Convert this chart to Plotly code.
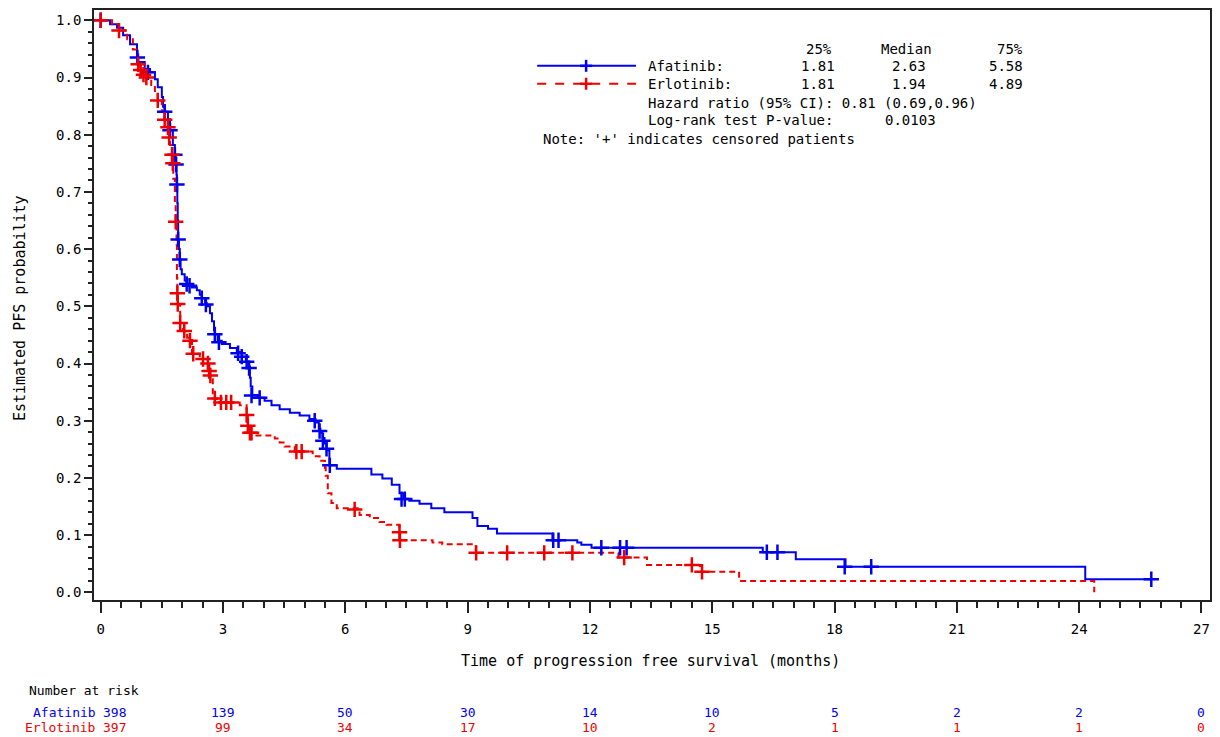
import plotly.graph_objects as go

# ---------------- data ----------------
afa_t = [0, 0.23, 0.40, 0.55, 0.72, 0.89, 0.92, 1.08, 1.21, 1.33, 1.40, 1.50, 1.53, 1.57, 1.65, 1.70,
         1.77, 1.82, 1.84, 1.86, 1.87, 1.88, 1.89, 1.90, 1.92, 1.94, 1.96, 1.99, 2.06, 2.11, 2.24, 2.36,
         2.43, 2.48, 2.56, 2.60, 2.68, 2.73, 2.78, 2.80, 2.87, 2.97, 3.17, 3.34, 3.46, 3.56, 3.63, 3.66,
         3.68, 3.72, 3.85, 4.02, 4.19, 4.39, 4.64, 4.88, 5.12, 5.27, 5.35, 5.39, 5.44, 5.49, 5.54, 5.61,
         5.79, 6.64, 6.91, 7.14, 7.33, 7.43, 7.57, 7.82, 8.11, 8.43, 9.12, 9.24, 9.50, 9.72, 11.08, 11.69,
         11.79, 12.04, 16.24, 17.05, 18.27, 24.15, 25.77]
afa_s = [1.0, 0.993, 0.987, 0.974, 0.958, 0.940, 0.927, 0.915, 0.909, 0.897, 0.883, 0.866, 0.849, 0.840,
         0.827, 0.808, 0.782, 0.765, 0.748, 0.730, 0.713, 0.680, 0.650, 0.617, 0.600, 0.582, 0.565, 0.556,
         0.545, 0.539, 0.533, 0.528, 0.520, 0.514, 0.506, 0.500, 0.488, 0.474, 0.458, 0.451, 0.440, 0.434,
         0.427, 0.420, 0.412, 0.403, 0.395, 0.375, 0.360, 0.345, 0.340, 0.335, 0.327, 0.320, 0.314, 0.309,
         0.303, 0.297, 0.286, 0.279, 0.270, 0.260, 0.248, 0.222, 0.216, 0.206, 0.199, 0.188, 0.173, 0.163,
         0.160, 0.155, 0.147, 0.140, 0.130, 0.116, 0.111, 0.103, 0.091, 0.087, 0.083, 0.078, 0.070, 0.058,
         0.0446, 0.023, 0.023]
afa_cens_t = [0.00, 0.90, 1.16, 1.57, 1.70, 1.82, 1.85, 1.87, 1.90, 1.94, 2.11, 2.18, 2.48, 2.58, 2.80,
              2.90, 3.37, 3.46, 3.58, 3.64, 3.70, 3.90, 5.25, 5.37, 5.45, 5.54, 5.62, 7.38, 7.46, 11.10,
              11.23, 12.28, 12.74, 12.90, 16.34, 16.60, 18.25, 18.90, 25.77]
afa_cens_s = [1.000, 0.935, 0.909, 0.840, 0.808, 0.765, 0.748, 0.713, 0.617, 0.582, 0.539, 0.536, 0.514,
              0.503, 0.451, 0.437, 0.418, 0.412, 0.403, 0.392, 0.344, 0.340, 0.300, 0.282, 0.265, 0.251,
              0.222, 0.163, 0.163, 0.091, 0.091, 0.078, 0.078, 0.078, 0.070, 0.070, 0.0446, 0.0446, 0.023]

erl_t = [0, 0.28, 0.45, 0.65, 0.79, 0.91, 0.96, 1.03, 1.14, 1.24, 1.33, 1.40, 1.50, 1.57, 1.65, 1.68,
         1.70, 1.75, 1.77, 1.78, 1.82, 1.84, 1.86, 1.87, 1.88, 1.89, 1.95, 2.02, 2.12, 2.24, 2.43, 2.60,
         2.65, 2.68, 2.75, 2.85, 3.41, 3.58, 3.61, 3.66, 3.78, 4.27, 4.39, 4.51, 4.76, 5.20, 5.37, 5.50,
         5.52, 5.57, 5.66, 5.79, 6.35, 6.60, 6.84, 7.01, 7.33, 7.34, 8.14, 8.38, 9.20, 12.70, 13.40,
         14.70, 15.66, 24.37]
erl_s = [1.0, 0.993, 0.982, 0.967, 0.949, 0.923, 0.913, 0.905, 0.897, 0.887, 0.871, 0.860, 0.840, 0.826,
         0.813, 0.795, 0.782, 0.765, 0.750, 0.723, 0.678, 0.648, 0.608, 0.549, 0.523, 0.504, 0.471, 0.457,
         0.445, 0.417, 0.408, 0.400, 0.387, 0.379, 0.339, 0.332, 0.327, 0.310, 0.291, 0.279, 0.274, 0.269,
         0.262, 0.255, 0.246, 0.238, 0.230, 0.218, 0.204, 0.173, 0.156, 0.147, 0.135, 0.130, 0.123, 0.118,
         0.105, 0.091, 0.087, 0.084, 0.069, 0.061, 0.048, 0.036, 0.020, 0.0]
erl_cens_t = [0.00, 0.45, 0.92, 0.98, 1.05, 1.12, 1.40, 1.57, 1.65, 1.68, 1.75, 1.77, 1.84, 1.88, 1.89,
              1.95, 2.05, 2.19, 2.27, 2.51, 2.63, 2.66, 2.69, 2.80, 2.95, 3.08, 3.20, 3.58, 3.61, 3.66,
              3.70, 4.80, 4.93, 6.23, 7.33, 7.34, 9.21, 9.97, 10.88, 11.57, 12.84, 14.50, 14.75]
erl_cens_s = [1.000, 0.982, 0.923, 0.913, 0.905, 0.900, 0.860, 0.826, 0.813, 0.795, 0.765, 0.750, 0.648,
              0.523, 0.504, 0.471, 0.457, 0.440, 0.417, 0.408, 0.400, 0.387, 0.379, 0.339, 0.332, 0.332,
              0.332, 0.310, 0.291, 0.279, 0.279, 0.246, 0.246, 0.145, 0.105, 0.091, 0.069, 0.069, 0.069,
              0.069, 0.061, 0.048, 0.036]

risk_times = [0, 3, 6, 9, 12, 15, 18, 21, 24, 27]
afa_risk = [398, 139, 50, 30, 14, 10, 5, 2, 2, 0]
erl_risk = [397, 99, 34, 17, 10, 2, 1, 1, 1, 0]

x_ticks = [0, 3, 6, 9, 12, 15, 18, 21, 24, 27]
y_ticks = [0.0, 0.1, 0.2, 0.3, 0.4, 0.5, 0.6, 0.7, 0.8, 0.9, 1.0]

BLUE = "#0000F0"
RED = "#EE0000"
FONT = "DejaVu Sans Mono"

# ---------------- layout geometry (pixels) ----------------
W, H = 1220, 737
ML, MR, MT, MB = 94, 8, 8, 137
PW, PH = W - ML - MR, H - MT - MB


def px(xp):
    return (xp - ML) / PW


def py(yp):
    return (H - MB - yp) / PH


fig = go.Figure()

fig.add_trace(go.Scatter(x=afa_t, y=afa_s, mode="lines", line=dict(color=BLUE, width=2, shape="hv"),
                         showlegend=False, hoverinfo="skip"))
fig.add_trace(go.Scatter(x=erl_t, y=erl_s, mode="lines",
                         line=dict(color=RED, width=2, shape="hv", dash="6px,4px"),
                         showlegend=False, hoverinfo="skip"))
fig.add_trace(go.Scatter(x=afa_cens_t, y=afa_cens_s, mode="markers",
                         marker=dict(symbol="cross-thin", size=11, line=dict(width=2.5, color=BLUE)),
                         showlegend=False))
fig.add_trace(go.Scatter(x=erl_cens_t, y=erl_cens_s, mode="markers",
                         marker=dict(symbol="cross-thin", size=11, line=dict(width=2.5, color=RED)),
                         showlegend=False))

ann = []


def txt(x, y, s, anchor="left", color="black", size=14, xref="paper"):
    ann.append(dict(x=x, y=y, xref=xref, yref="paper", text=s, showarrow=False, xanchor=anchor,
                    yanchor="middle", font=dict(family=FONT, size=size, color=color)))


# legend / statistics block
txt(px(820), py(47), "25%", "center")
txt(px(908), py(47), "Median", "center")
txt(px(1027), py(47), "75%", "right")
txt(px(647), py(64), "Afatinib:")
txt(px(647), py(82), "Erlotinib:")
txt(px(819), py(64), "1.81", "center")
txt(px(819), py(82), "1.81", "center")
txt(px(910), py(64), "2.63", "center")
txt(px(910), py(82), "1.94", "center")
txt(px(1027), py(64), "5.58", "right")
txt(px(1027), py(82), "4.89", "right")
txt(px(647), py(101), "Hazard ratio (95% CI): 0.81 (0.69,0.96)")
txt(px(647), py(118), "Log-rank test P-value:")
txt(px(912), py(118), "0.0103", "center")
txt(px(542), py(137), "Note: '+' indicates censored patients")

# axis titles
txt(0.5 * (px(423) + px(880)), py(661), "Time of progression free survival (months)", "center", size=15)
ann.append(dict(x=px(20), y=py(307), xref="paper", yref="paper", text="Estimated PFS probability",
                showarrow=False, textangle=-90, xanchor="center", yanchor="middle",
                font=dict(family=FONT, size=15, color="black")))

# number at risk table
txt(px(27), py(691), "Number at risk", size=13)
txt(px(98), py(713), "Afatinib", "right", BLUE, 13)
txt(px(98), py(728), "Erlotinib", "right", RED, 13)
for i, (t, a, e) in enumerate(zip(risk_times, afa_risk, erl_risk)):
    if i == 0:
        txt(px(101), py(713), str(a), "left", BLUE, 13)
        txt(px(101), py(728), str(e), "left", RED, 13)
    else:
        ann.append(dict(x=t, y=py(713), xref="x", yref="paper", text=str(a), showarrow=False,
                        xanchor="center", yanchor="middle", font=dict(family=FONT, size=13, color=BLUE)))
        ann.append(dict(x=t, y=py(728), xref="x", yref="paper", text=str(e), showarrow=False,
                        xanchor="center", yanchor="middle", font=dict(family=FONT, size=13, color=RED)))

# legend sample lines with "+" marks
shapes = []
for yy, col, dash in [(64, BLUE, "solid"), (82, RED, "dash")]:
    shapes.append(dict(type="line", xref="paper", yref="paper", x0=px(538), x1=px(637), y0=py(yy), y1=py(yy),
                       line=dict(color=col, width=2, dash=dash)))
    shapes.append(dict(type="line", xref="paper", yref="paper", x0=px(581), x1=px(593), y0=py(yy), y1=py(yy),
                       line=dict(color=col, width=2.5)))
    shapes.append(dict(type="line", xref="paper", yref="paper", x0=px(587), x1=px(587), y0=py(yy - 6),
                       y1=py(yy + 6), line=dict(color=col, width=2.5)))

axis_common = dict(showline=True, mirror=True, linecolor="#222222", linewidth=1.6, showgrid=False,
                   zeroline=False, ticks="outside", tickcolor="#222222", tickwidth=1.6,
                   tickfont=dict(family=FONT, size=14, color="black"))

fig.update_layout(
    width=W, height=H,
    margin=dict(l=ML, r=MR, t=MT, b=MB),
    plot_bgcolor="white", paper_bgcolor="white",
    showlegend=False,
    xaxis=dict(range=[-0.164, 27.21], tickmode="array", tickvals=x_ticks,
               ticktext=[str(v) for v in x_ticks], ticklen=11, ticklabelstandoff=4,
               minor=dict(dtick=0.5, tick0=0, ticks="outside", ticklen=6, tickcolor="#222222", tickwidth=1.6),
               **axis_common),
    yaxis=dict(range=[-0.0134, 1.018], tickmode="array", tickvals=y_ticks,
               ticktext=[f"{v:.1f}" for v in y_ticks], ticklen=8,
               minor=dict(dtick=0.02, tick0=0, ticks="outside", ticklen=4, tickcolor="#222222", tickwidth=1.6),
               **axis_common),
    annotations=ann,
    shapes=shapes,
)

fig.write_html("out.html", config={"displayModeBar": False},
               post_script="document.body.style.margin='0px';document.body.style.overflow='hidden';")
